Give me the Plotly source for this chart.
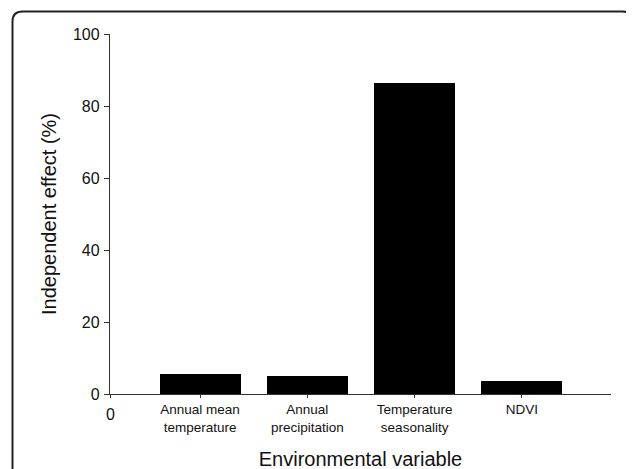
import plotly.graph_objects as go

categories = ["Annual mean<br>temperature", "Annual<br>precipitation",
              "Temperature<br>seasonality", "NDVI"]
independent_effect = [5.6, 4.9, 86.3, 3.5]
y_ticks = [0, 20, 40, 60, 80, 100]

FONT = "Liberation Sans, Arial, sans-serif"
W, H = 634, 469
OFF = 8  # page body margin
L, R, T, B = 110 - OFF, 23 + OFF, 34 - OFF, 75 + OFF
pw, ph = W - L - R, H - T - B

xpos = list(range(len(categories)))
xmin, xmax = -0.839, 3.83

fig = go.Figure()
fig.add_trace(go.Bar(
    x=xpos, y=independent_effect, width=0.755,
    marker=dict(color="black", line=dict(width=0)),
    showlegend=False,
))

def px_to_paper_x(px):
    return (px - OFF - L) / pw

def px_to_paper_y(py):
    return (H - B - (py - OFF)) / ph

x0, x1 = px_to_paper_x(12.5), px_to_paper_x(632.5)
yt, yb = px_to_paper_y(11.5), px_to_paper_y(500)
rx, ry = 10 / pw, 10 / ph
path = (f"M {x0},{yb} L {x0},{yt - ry} Q {x0},{yt} {x0 + rx},{yt} "
        f"L {x1 - rx},{yt} Q {x1},{yt} {x1},{yt - ry} L {x1},{yb}")

fig.update_layout(
    width=W, height=H,
    margin=dict(l=L, r=R, t=T, b=B, pad=0),
    plot_bgcolor="white", paper_bgcolor="white",
    font=dict(family=FONT, color="#111"),
    bargap=0,
    shapes=[dict(type="path", xref="paper", yref="paper", path=path,
                 line=dict(color="#222", width=2), layer="above")],
    annotations=[dict(x=xmin, y=0, xref="x", yref="paper", text="0",
                      showarrow=False, yanchor="top", xanchor="center",
                      yshift=-10, font=dict(size=16, family=FONT, color="#111"))],
    xaxis=dict(
        range=[xmin, xmax], tickmode="array",
        tickvals=[xmin] + xpos, ticktext=[""] + categories,
        ticks="outside", ticklen=3, tickwidth=1.2, tickcolor="#333",
        showline=True, linecolor="#333", linewidth=1.3,
        showgrid=False, zeroline=False, automargin=False,
        tickfont=dict(size=13.5, family=FONT, color="#111"),
        title=dict(text="Environmental variable", standoff=18,
                   font=dict(size=20, family=FONT, color="#111")),
    ),
    yaxis=dict(
        range=[0, 100], tickvals=y_ticks,
        ticks="outside", ticklen=5, tickwidth=1.2, tickcolor="#333",
        ticklabelstandoff=1,
        showline=True, linecolor="#333", linewidth=1.3,
        showgrid=False, zeroline=False, automargin=False,
        tickfont=dict(size=16, family=FONT, color="#111"),
        title=dict(text="Independent effect (%)", standoff=10,
                   font=dict(size=20, family=FONT, color="#111")),
    ),
)

fig.write_html("out.html")
